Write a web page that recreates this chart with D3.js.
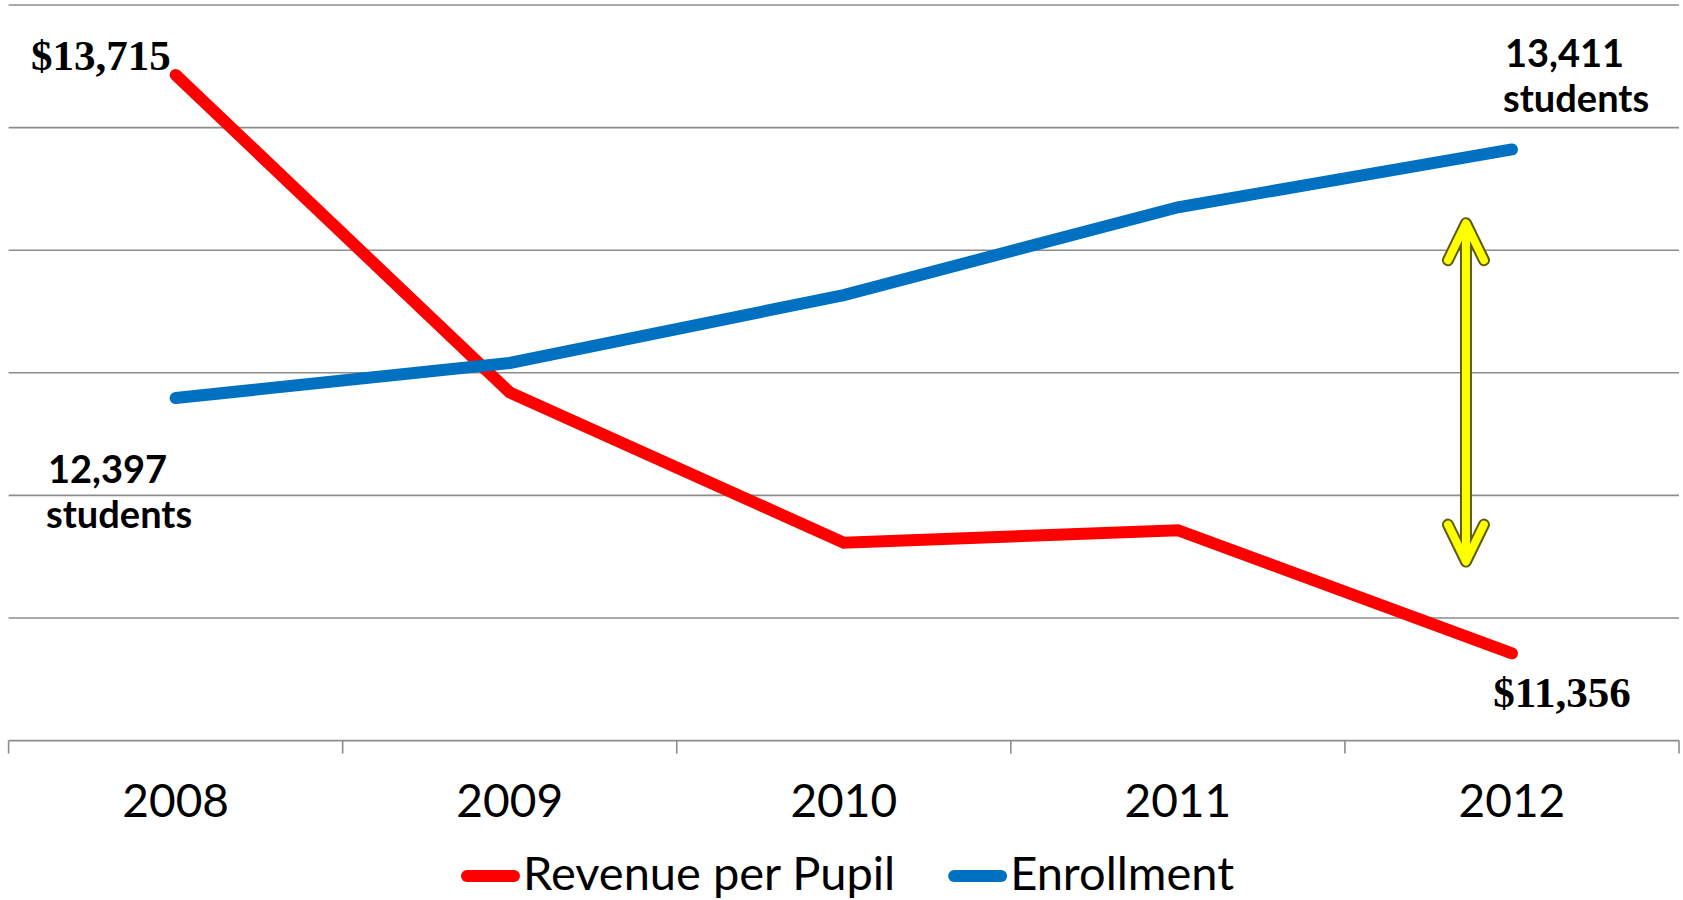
<!DOCTYPE html>
<html>
<head>
<meta charset="utf-8">
<script src="https://cdn.jsdelivr.net/npm/d3@7"></script>
<style>
  html, body { margin: 0; padding: 0; background: #fff; }
  svg { display: block; }
</style>
</head>
<body>
<svg id="chart" width="1683" height="900"></svg>
<script>
// data
const years = ['2008', '2009', '2010', '2011', '2012'];
const revenuePerPupil = [13715, 12420, 11807, 11858, 11356];
const enrollment = [12397, 12540, 12817, 13175, 13411];
const yTicks = [11000, 11500, 12000, 12500, 13000, 13500, 14000];
const seriesNames = ['Revenue per Pupil', 'Enrollment'];
const seriesColors = ['#ff0000', '#0070c0'];
// gap arrow spans these values, just left of 2012
const arrowRange = [13110, 11730];

const plot = { left: 8.6, right: 1679, top: 5, bottom: 740.6 };

const svg = d3.select('#chart');

const x = d3.scaleBand()
    .domain(years)
    .range([plot.left, plot.right]);

const y = d3.scaleLinear()
    .domain([d3.min(yTicks), d3.max(yTicks)])
    .range([plot.bottom, plot.top]);

const cx = d => x(d) + x.bandwidth() / 2;

// gridlines
svg.append('g')
    .selectAll('line')
    .data(yTicks.slice(1))
    .enter()
    .append('line')
    .attr('x1', plot.left)
    .attr('x2', plot.right)
    .attr('y1', d => y(d))
    .attr('y2', d => y(d))
    .attr('stroke', '#8c8c8c')
    .attr('stroke-width', 1.6);

// category axis
const xAxis = d3.axisBottom(x).tickSize(0).tickPadding(0).tickFormat(() => '');
const axisG = svg.append('g')
    .attr('transform', `translate(0, ${plot.bottom})`)
    .call(xAxis);
axisG.select('.domain').remove();
axisG.append('line')
    .attr('x1', plot.left).attr('x2', plot.right)
    .attr('stroke', '#8c8c8c').attr('stroke-width', 1.6);

const bounds = years.map(d => x(d)).concat([plot.right]);
axisG.selectAll('.sep')
    .data(bounds)
    .enter()
    .append('line')
    .attr('class', 'sep')
    .attr('x1', d => d).attr('x2', d => d)
    .attr('y1', 0).attr('y2', 13)
    .attr('stroke', '#8c8c8c').attr('stroke-width', 1.6);

svg.append('g')
    .selectAll('text')
    .data(years)
    .enter()
    .append('text')
    .attr('x', d => cx(d))
    .attr('y', 817)
    .attr('text-anchor', 'middle')
    .style('font-family', 'Lato, sans-serif')
    .style('font-size', '46px')
    .attr('fill', '#000')
    .text(d => d);

// lines
const line = d3.line()
    .x((d, i) => cx(years[i]))
    .y(d => y(d));

[revenuePerPupil, enrollment].forEach((s, k) => {
    svg.append('path')
        .datum(s)
        .attr('d', line)
        .attr('fill', 'none')
        .attr('stroke', seriesColors[k])
        .attr('stroke-width', 12)
        .attr('stroke-linecap', 'round')
        .attr('stroke-linejoin', 'miter');
});

// value labels
const serif = "'Liberation Serif', 'Times New Roman', serif";
const sans = 'Lato, sans-serif';
const fmt = d3.format(',');

svg.append('text')
    .attr('x', cx(years[0]) - 5)
    .attr('y', y(revenuePerPupil[0]) - 5)
    .attr('text-anchor', 'end')
    .style('font-family', serif).style('font-size', '43px').style('font-weight', 'bold')
    .text('$' + fmt(revenuePerPupil[0]));

svg.append('text')
    .attr('x', cx(years[4]) + 50)
    .attr('y', y(revenuePerPupil[4]) + 54)
    .attr('text-anchor', 'middle')
    .style('font-family', serif).style('font-size', '43px').style('font-weight', 'bold')
    .text('$' + fmt(revenuePerPupil[4]));

function studentLabel(xp, yp, v) {
    const t = svg.append('text')
        .attr('x', xp)
        .attr('y', yp)
        .style('font-family', sans).style('font-size', '38px').style('font-weight', 'bold');
    t.append('tspan').attr('x', xp).text(fmt(v));
    t.append('tspan').attr('x', xp - 2).attr('dy', 45).text('students');
}
studentLabel(48, y(enrollment[0]) + 85, enrollment[0]);
studentLabel(1505, y(enrollment[4]) - 82, enrollment[4]);

// yellow double arrow
const ax = cx(years[4]) - 46;
const ya = y(arrowRange[0]), yb = y(arrowRange[1]);
const arrowPath = `M${ax},${ya + 4} L${ax},${yb - 4}` +
    ` M${ax - 18},${ya + 37} L${ax},${ya} L${ax + 18},${ya + 37}` +
    ` M${ax - 18},${yb - 37} L${ax},${yb} L${ax + 18},${yb - 37}`;
svg.append('path')
    .attr('d', arrowPath)
    .attr('fill', 'none')
    .attr('stroke', '#5c5c10')
    .attr('stroke-width', 12)
    .attr('stroke-linecap', 'round')
    .attr('stroke-linejoin', 'round');
svg.append('path')
    .attr('d', arrowPath)
    .attr('fill', 'none')
    .attr('stroke', '#ffff00')
    .attr('stroke-width', 8)
    .attr('stroke-linecap', 'round')
    .attr('stroke-linejoin', 'round');

// legend
const legend = svg.append('g');
let lx = 461;
seriesNames.forEach((name, k) => {
    legend.append('line')
        .attr('x1', lx + 6).attr('x2', lx + 53)
        .attr('y1', 876).attr('y2', 876)
        .attr('stroke', seriesColors[k])
        .attr('stroke-width', 12)
        .attr('stroke-linecap', 'round');
    const t = legend.append('text')
        .attr('x', lx + 62)
        .attr('y', 890)
        .style('font-family', sans)
        .style('font-size', '47px')
        .text(name);
    lx = lx + 62 + t.node().getComputedTextLength() + 53;
});
</script>
</body>
</html>
